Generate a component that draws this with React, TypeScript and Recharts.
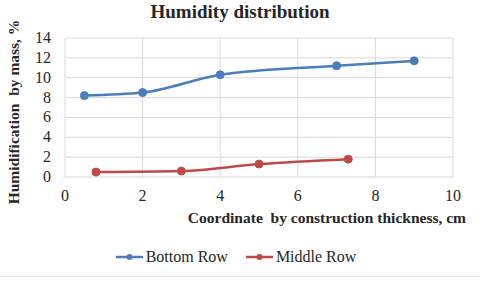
import { LineChart, Line, XAxis, YAxis, CartesianGrid } from "recharts";

const bottomX = [0.5, 2, 4, 7, 9];
const bottomY = [8.2, 8.5, 10.3, 11.2, 11.7];
const middleX = [0.8, 3, 5, 7.3];
const middleY = [0.5, 0.6, 1.3, 1.8];
const xTicks = [0, 2, 4, 6, 8, 10];
const yTicks = [0, 2, 4, 6, 8, 10, 12, 14];

const BLUE = "#4A7EBB";
const RED = "#BE4B48";
const FONT = "'Liberation Serif', 'Times New Roman', serif";

const bottomData = bottomX.map((x, i) => ({ x, y: bottomY[i] }));
const middleData = middleX.map((x, i) => ({ x, y: middleY[i] }));

function XTick(props: any) {
  const { x, y, payload } = props;
  return (
    <text x={x} y={y + 16} textAnchor="middle" fontFamily={FONT} fontSize={16} fill="#262626">
      {payload.value}
    </text>
  );
}

function YTick(props: any) {
  const { x, y, payload } = props;
  return (
    <text x={x} y={y + 5} textAnchor="end" fontFamily={FONT} fontSize={16} fill="#262626">
      {payload.value}
    </text>
  );
}

function LegendItem({ color, label }: { color: string; label: string }) {
  return (
    <div style={{ display: "flex", alignItems: "center", gap: 3 }}>
      <svg width={27} height={10}>
        <line x1={0} y1={5} x2={27} y2={5} stroke={color} strokeWidth={2.5} />
        <circle cx={13.5} cy={5} r={3} fill={color} />
      </svg>
      <span>{label}</span>
    </div>
  );
}

export default function App() {
  return (
    <div style={{ position: "absolute", left: 0, top: 0, width: 480, height: 281, background: "#fff", fontFamily: FONT, color: "#262626" }}>
      <LineChart width={480} height={281} data={bottomData} margin={{ top: 38, right: 27, left: 0, bottom: 74 }}>
        <CartesianGrid stroke="#d9d9d9" strokeWidth={1} />
        <XAxis
          type="number"
          dataKey="x"
          domain={[0, 10]}
          ticks={xTicks}
          axisLine={false}
          tickLine={false}
          tick={<XTick />}
          height={30}
          interval={0}
        />
        <YAxis
          type="number"
          dataKey="y"
          domain={[0, 14]}
          ticks={yTicks}
          axisLine={false}
          tickLine={false}
          tick={<YTick />}
          tickMargin={8}
          width={65}
          interval={0}
        />
        <Line
          data={bottomData}
          dataKey="y"
          type="monotone"
          stroke={BLUE}
          strokeWidth={2.5}
          dot={{ r: 4, fill: BLUE, stroke: BLUE, strokeWidth: 1 }}
          isAnimationActive={false}
        />
        <Line
          data={middleData}
          dataKey="y"
          type="monotone"
          stroke={RED}
          strokeWidth={2.5}
          dot={{ r: 4, fill: RED, stroke: RED, strokeWidth: 1 }}
          isAnimationActive={false}
        />
      </LineChart>
      <div style={{ position: "absolute", left: 0, width: 480, top: 1, textAlign: "center", fontWeight: "bold", fontSize: 19 }}>
        Humidity distribution
      </div>
      <div
        style={{
          position: "absolute",
          left: 14,
          top: 112,
          transform: "translate(-50%, -50%) rotate(-90deg)",
          whiteSpace: "pre",
          fontWeight: "bold",
          fontSize: 15.5,
        }}
      >
        Humidification  by mass, %
      </div>
      <div style={{ position: "absolute", right: 14, top: 209, fontWeight: "bold", fontSize: 15.5, whiteSpace: "pre" }}>
        Coordinate  by construction thickness, cm
      </div>
      <div style={{ position: "absolute", left: -4, width: 480, top: 248, display: "flex", justifyContent: "center", gap: 18, fontSize: 16 }}>
        <LegendItem color={BLUE} label="Bottom Row" />
        <LegendItem color={RED} label="Middle Row" />
      </div>
      <div style={{ position: "absolute", left: 0, width: 480, top: 276, height: 1, background: "#e6e6e6" }} />
    </div>
  );
}
